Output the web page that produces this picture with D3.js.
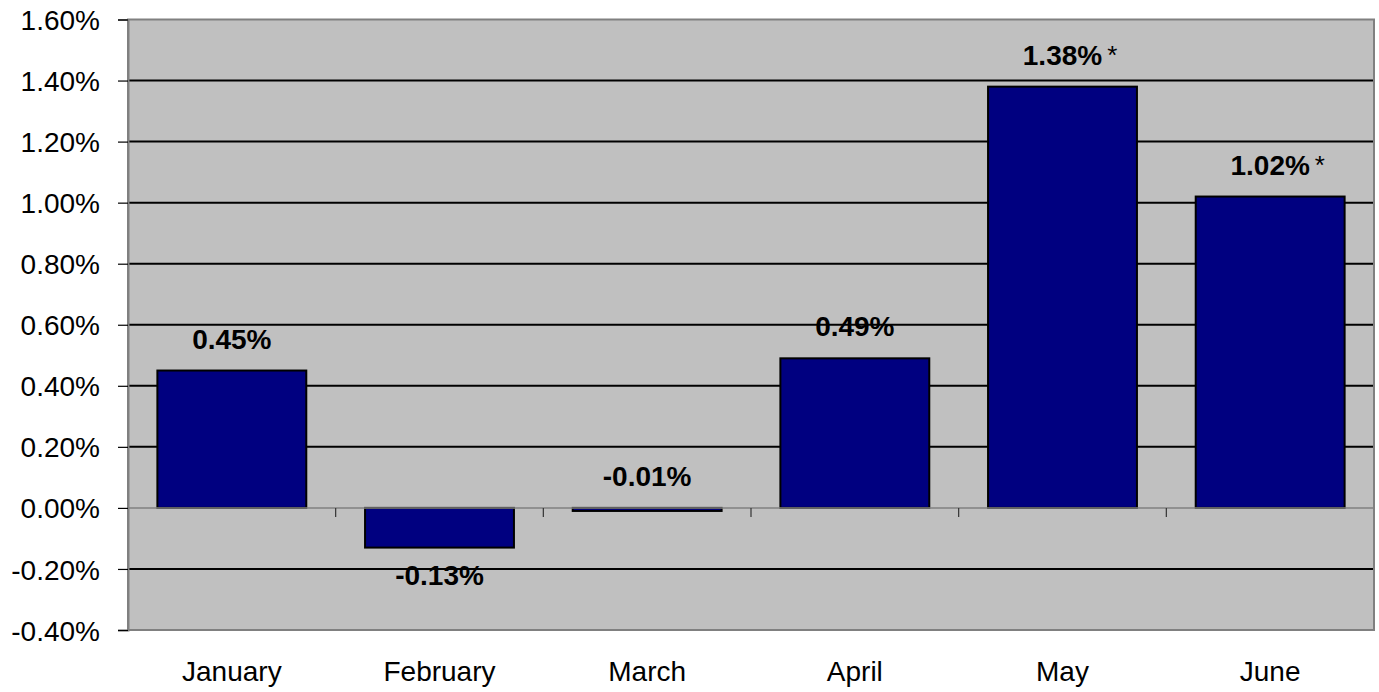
<!DOCTYPE html>
<html><head><meta charset="utf-8">
<script src="https://cdn.jsdelivr.net/npm/d3@7"></script>
<style>body{margin:0;background:#fff;} text{font-family:"Liberation Sans",Arial,sans-serif;}</style>
</head><body>
<svg id="c" width="1379" height="692"></svg>
<script>
const categories = ["January","February","March","April","May","June"];
const values = [0.45, -0.13, -0.01, 0.49, 1.38, 1.02];
const notes = ["", "", "", "", "*", "*"];
const yTicks = [-0.4,-0.2,0,0.2,0.4,0.6,0.8,1.0,1.2,1.4,1.6];

const fmt = d => d3.format(".2f")(d).replace("\u2212","-") + "%";
const svg = d3.select("#c");
const L = 128, R = 1374, T = 19.5, B = 630;
const x = d3.scaleBand().domain(categories).range([L,R]).paddingInner(0.283).paddingOuter(0.1415);
const y = d3.scaleLinear().domain([-0.4,1.6]).range([B,T]);

svg.append("rect").attr("x",L).attr("y",T).attr("width",R-L).attr("height",B-T)
  .attr("fill","#C0C0C0");

// gridlines
svg.append("g").selectAll("line").data(yTicks.filter(t=>t!==0 && t!==-0.4 && t!==1.6)).join("line")
  .attr("x1",L).attr("x2",R).attr("y1",d=>y(d)).attr("y2",d=>y(d))
  .attr("stroke","#000").attr("stroke-width",2);

// frame
svg.append("rect").attr("x",L).attr("y",T).attr("width",R-L).attr("height",B-T)
  .attr("fill","none").attr("stroke","#808080").attr("stroke-width",2);

// y axis
const yAxis = d3.axisLeft(y).tickValues(yTicks).tickSize(10).tickPadding(18).tickFormat(fmt);
const ga = svg.append("g").attr("transform",`translate(${L},0)`).call(yAxis);
ga.select(".domain").attr("stroke","#808080").attr("stroke-width",2);
ga.selectAll(".tick line").attr("stroke","#000").attr("stroke-width",1.2);
ga.selectAll(".tick text").attr("font-size",28).attr("fill","#000")
  .attr("font-family","'Liberation Sans',Arial,sans-serif").attr("dy","0.36em");

// bars
svg.append("g").selectAll("rect").data(values).join("rect")
  .attr("x",(d,i)=>x(categories[i]))
  .attr("width",x.bandwidth())
  .attr("y",d=>y(Math.max(0,d)))
  .attr("height",d=>Math.max(2,Math.abs(y(d)-y(0))))
  .attr("fill","#000080").attr("stroke","#000").attr("stroke-width",2);

// zero axis line + category ticks
svg.append("line").attr("x1",L).attr("x2",R).attr("y1",y(0)).attr("y2",y(0))
  .attr("stroke","#808080").attr("stroke-width",1.5);
const step = x.step();
const bounds = d3.range(1,categories.length).map(i=>L+i*step);
svg.append("g").selectAll("line").data(bounds).join("line")
  .attr("x1",d=>d).attr("x2",d=>d).attr("y1",y(0)).attr("y2",y(0)+9)
  .attr("stroke","#333").attr("stroke-width",1.2);

// category labels
svg.append("g").selectAll("text").data(categories).join("text")
  .attr("x",d=>x(d)+x.bandwidth()/2).attr("y",681)
  .attr("text-anchor","middle").attr("font-size",28).attr("fill","#000").text(d=>d);

// data labels
const lg = svg.append("g");
values.forEach((v,i)=>{
  const cx = x(categories[i])+x.bandwidth()/2;
  const below = v < -0.05;
  const by = below ? y(v)+37 : y(Math.max(0,v))-22;
  const t = lg.append("text").attr("x",cx).attr("y",by).attr("text-anchor","middle")
    .attr("font-size",28).attr("font-weight","bold").attr("fill","#000")
    .text(fmt(v));
  if(notes[i]){
    const w = t.node().getComputedTextLength();
    lg.append("text").attr("x",cx+w/2+5).attr("y",by-1).attr("font-size",26)
      .attr("fill","#000").text(notes[i]);
  }
});
</script>
</body></html>
